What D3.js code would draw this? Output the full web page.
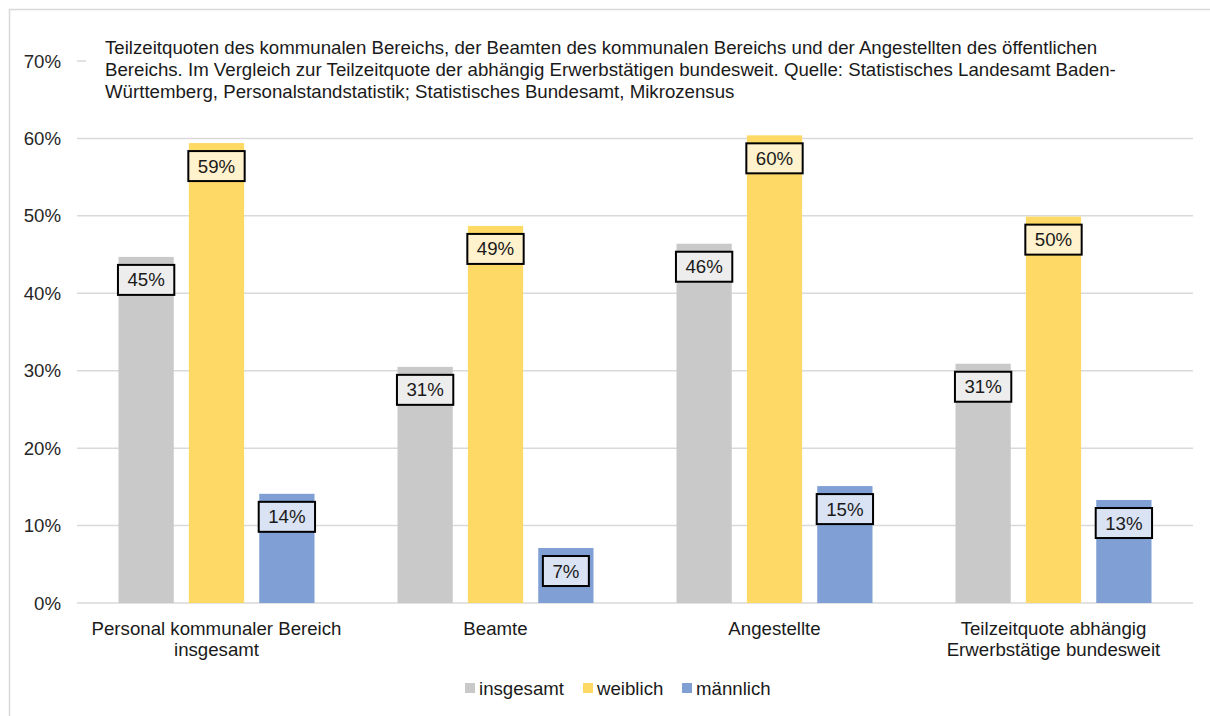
<!DOCTYPE html>
<html><head><meta charset="utf-8">
<script src="https://cdn.jsdelivr.net/npm/d3@7"></script>
<style>body{margin:0;background:#fff}svg{display:block;font-family:"Liberation Sans",Arial,sans-serif}</style>
</head><body><svg id="c" width="1210" height="716"></svg>
<script>
const categories = [["Personal kommunaler Bereich","insgesamt"],["Beamte"],["Angestellte"],["Teilzeitquote abhängig","Erwerbstätige bundesweit"]];
const seriesNames = ["insgesamt","weiblich","männlich"];
const insgesamt = [0.447, 0.305, 0.464, 0.309];
const weiblich  = [0.594, 0.487, 0.604, 0.499];
const maennlich = [0.141, 0.071, 0.151, 0.133];
const yTicks = [0,0.1,0.2,0.3,0.4,0.5,0.6,0.7];
const titleLines = [
 "Teilzeitquoten des kommunalen Bereichs, der Beamten des kommunalen Bereichs und der Angestellten des öffentlichen",
 "Bereichs. Im Vergleich zur Teilzeitquote der abhängig Erwerbstätigen bundesweit. Quelle: Statistisches Landesamt Baden-",
 "Württemberg, Personalstandstatistik; Statistisches Bundesamt, Mikrozensus"];
const colors = ["#c9c9c9","#ffd966","#7f9fd5"];
const labelFills = ["#ededed","#fff2cc","#dae3f3"];
const series = [insgesamt, weiblich, maennlich];
const FS = 18.67;

const svg = d3.select("#c");
svg.append("rect").attr("x",9.5).attr("y",9.5).attr("width",1220).attr("height",730)
  .attr("fill","none").attr("stroke","#d9d9d9").attr("stroke-width",1.5);

const x0 = 77, x1 = 1193;
const y = d3.scaleLinear().domain([0,0.7]).range([603,61]);
const x = d3.scaleBand().domain(d3.range(categories.length)).range([x0,x1]).padding(0);
const xs = d3.scaleBand().domain(d3.range(3)).range([0,196]).paddingInner(0.215);

// gridlines
svg.append("g").selectAll("line").data(yTicks).join("line")
  .attr("x1",x0).attr("x2",x1).attr("y1",d=>y(d)).attr("y2",d=>y(d))
  .attr("stroke","#d9d9d9").attr("stroke-width",1.5);

// y tick labels
svg.append("g").selectAll("text").data(yTicks).join("text")
  .attr("x",61).attr("y",d=>y(d)).attr("dy","0.35em").attr("text-anchor","end")
  .attr("font-size",FS).attr("fill","#262626").text(d=>d3.format(".0%")(d));

// title box
svg.append("rect").attr("x",86).attr("y",30).attr("width",1107).attr("height",78).attr("fill","#fff");
svg.append("g").selectAll("text").data(titleLines).join("text")
  .attr("x",105).attr("y",(d,i)=>53.5+i*22.3).attr("font-size",FS).attr("fill","#1a1a1a").text(d=>d);

// bars
const g = svg.append("g");
categories.forEach((c,ci)=>{
  const gx = x(ci) + (x.bandwidth()-196)/2;
  series.forEach((s,si)=>{
    const v = s[ci];
    const bx = gx + xs(si), bw = xs.bandwidth();
    g.append("rect").attr("x",bx).attr("y",y(v)).attr("width",bw).attr("height",y(0)-y(v)).attr("fill",colors[si]);
    const txt = d3.format(".0%")(v);
    const t = g.append("text").attr("x",bx+bw/2).attr("y",y(v)+23).attr("dy","0.35em")
      .attr("text-anchor","middle").attr("font-size",FS).attr("fill","#1a1a1a").text(txt);
    const tw = t.node().getComputedTextLength();
    g.insert("rect", () => t.node()).attr("x",bx+bw/2-tw/2-9.5).attr("y",y(v)+8).attr("width",tw+19).attr("height",30)
      .attr("fill",labelFills[si]).attr("stroke","#000").attr("stroke-width",2);
  });
  // category label
  c.forEach((line,li)=>{
    svg.append("text").attr("x",x(ci)+x.bandwidth()/2).attr("y",628+li*21).attr("dy","0.35em")
      .attr("text-anchor","middle").attr("font-size",FS).attr("fill","#1a1a1a").text(line);
  });
});

// legend
const legX = [465,583,682];
const lg = svg.append("g");
seriesNames.forEach((n,i)=>{
  lg.append("rect").attr("x",legX[i]).attr("y",683).attr("width",10).attr("height",10).attr("fill",colors[i]);
  lg.append("text").attr("x",legX[i]+14).attr("y",688).attr("dy","0.35em").attr("font-size",FS).attr("fill","#1a1a1a").text(n);
});
</script></body></html>
